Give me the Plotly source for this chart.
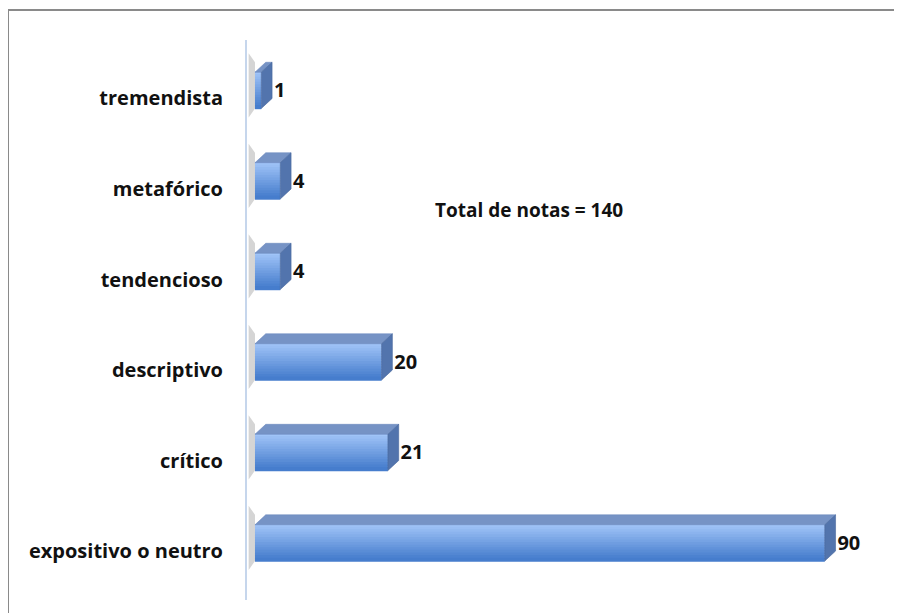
import plotly.graph_objects as go

# ---- data ----
categories = ["expositivo o neutro", "crítico", "descriptivo", "tendencioso", "metafórico", "tremendista"]
values = [90, 21, 20, 4, 4, 1]
total_label = "Total de notas = 140"

# ---- style / geometry params (data units) ----
y_pos = list(range(len(categories)))
bar_off = 0.09      # front face centre offset above tick
half_h = 0.20       # half height of front face
depth_x = 1.7       # 3D depth in x units
depth_y = 0.11      # 3D depth in y units
n_strips = 14
top_col = (160, 196, 248)
bot_col = (70, 125, 205)
FONT = "Open Sans"

fig = go.Figure()

# soft wall shadows
sx, sy = [], []
for yi in y_pos:
    c = yi + bar_off
    sx += [-1.0, 0.0, 0.0, -1.0, -1.0, None]
    sy += [c + half_h + depth_y + 0.1, c + half_h + depth_y, c - half_h, c - half_h - 0.1, c + half_h + depth_y + 0.1, None]
fig.add_trace(go.Scatter(x=sx, y=sy, fill="toself", mode="lines", line=dict(width=0),
                         fillcolor="rgba(150,150,150,0.4)", hoverinfo="skip", showlegend=False))

# front face as gradient strips of bars
sw = 2 * half_h / n_strips
for k in range(n_strips):
    t = k / (n_strips - 1)
    col = tuple(int(top_col[j] + (bot_col[j] - top_col[j]) * t) for j in range(3))
    ys = [yi + bar_off + half_h - sw * (k + 0.5) for yi in y_pos]
    fig.add_trace(go.Bar(x=values, y=ys, orientation="h", width=sw * 1.6,
                         marker=dict(color="rgb(%d,%d,%d)" % col, line=dict(width=0)),
                         hoverinfo="skip", showlegend=False))

# top faces
tx, ty = [], []
for v, yi in zip(values, y_pos):
    yt = yi + bar_off + half_h
    tx += [0, v, v + depth_x, depth_x, 0, None]
    ty += [yt, yt, yt + depth_y, yt + depth_y, yt, None]
fig.add_trace(go.Scatter(x=tx, y=ty, fill="toself", mode="lines", line=dict(width=0.6, color="#6f8cbf"),
                         fillcolor="#7693c5", hoverinfo="skip", showlegend=False))

# side faces
rx, ry = [], []
for v, yi in zip(values, y_pos):
    yt = yi + bar_off + half_h
    yb = yi + bar_off - half_h
    rx += [v, v + depth_x, v + depth_x, v, v, None]
    ry += [yt, yt + depth_y, yb + depth_y, yb, yt, None]
fig.add_trace(go.Scatter(x=rx, y=ry, fill="toself", mode="lines", line=dict(width=0.6, color="#46679c"),
                         fillcolor="#5274ad", hoverinfo="skip", showlegend=False))

# value labels
fig.add_trace(go.Scatter(x=[v + depth_x + 0.3 for v in values], y=[yi + bar_off - 0.02 for yi in y_pos],
                         mode="text", text=["<b>%d</b>" % v for v in values], textposition="middle right",
                         textfont=dict(family=FONT, size=20, color="#111111"),
                         hoverinfo="skip", showlegend=False))

fig.add_annotation(text="<b>%s</b>" % total_label, xref="paper", yref="paper", x=0.439, y=0.696,
                   xanchor="center", yanchor="middle",
                   showarrow=False, font=dict(family=FONT, size=19, color="#111111"))

# outer border
fig.add_shape(type="rect", xref="paper", yref="paper", x0=-0.3717, x1=1.1, y0=-0.1, y1=1.0536,
              line=dict(color="#8a8a8a", width=2), fillcolor="rgba(0,0,0,0)", layer="below")

fig.update_layout(
    width=902, height=613,
    margin=dict(l=239, r=20, t=32, b=21),
    paper_bgcolor="white", plot_bgcolor="white",
    barmode="overlay",
    xaxis=dict(range=[-1.26, 100.3], showgrid=False, zeroline=False, showticklabels=False,
               showline=False, fixedrange=True),
    yaxis=dict(range=[-0.541, 5.646], tickvals=y_pos, ticktext=["<b>%s</b>" % c for c in categories],
               showgrid=False, zeroline=False, showline=True, linecolor="#c6d6ec", linewidth=2,
               ticks="", ticklabelstandoff=18,
               tickfont=dict(family=FONT, size=20, color="#111111")),
)

fig.write_html("out.html")
